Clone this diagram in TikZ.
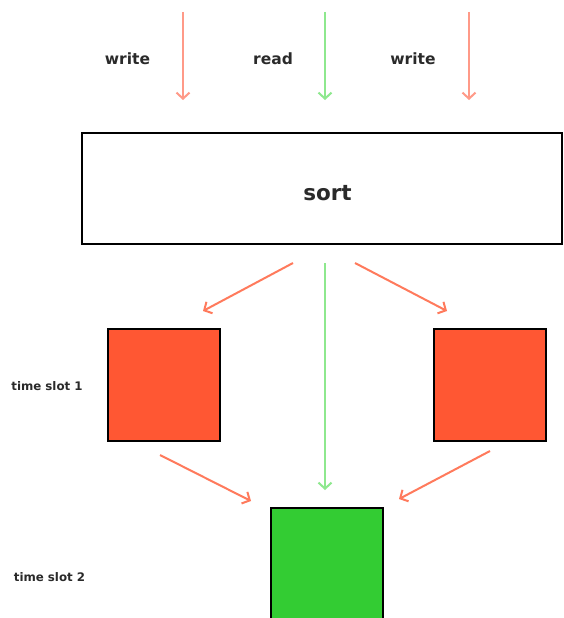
\documentclass[tikz,border=0pt]{standalone}
\usepackage{fontspec}
\setmainfont{DejaVu Sans}
\usetikzlibrary{arrows.meta}
\definecolor{wline}{HTML}{FF9A88}
\definecolor{rline}{HTML}{8EE88E}
\definecolor{oline}{HTML}{FF7A5C}
\definecolor{slotred}{HTML}{FF5733}
\definecolor{slotgreen}{HTML}{33CC33}
\definecolor{ink}{HTML}{2A2A2A}
\tikzset{
  flow/.style={line width=2pt, -{Straight Barb[length=6pt,width=13pt]}},
  box/.style={draw=black, line width=1.8pt, inner sep=0pt},
  lbl/.style={anchor=base, inner sep=0pt, text=ink, font=\bfseries\fontsize{15.5}{18}\selectfont},
  slotlbl/.style={lbl, font=\bfseries\fontsize{11.8}{14}\selectfont},
}
\begin{document}
\begin{tikzpicture}[x=1pt,y=-1pt]
\useasboundingbox (0,0) rectangle (564,618);
\clip (0,0) rectangle (564,618);
\fill[white] (0,0) rectangle (564,618);

% incoming requests
\coordinate (w1s) at (183,12);  \coordinate (w1e) at (183,100);
\coordinate (rds) at (325,12);  \coordinate (rde) at (325,100);
\coordinate (w2s) at (469,12);  \coordinate (w2e) at (469,100);
\draw[flow, wline] (w1s) -- (w1e);
\draw[flow, rline] (rds) -- (rde);
\draw[flow, wline] (w2s) -- (w2e);
\node[lbl] (lw1) at (127.5,64) {write};
\node[lbl] (lrd) at (273,64) {read};
\node[lbl] (lw2) at (413,64) {write};

% sorter
\node[box, fill=white, minimum width=480pt, minimum height=111pt] (sort) at (322,188.5) {};
\node[lbl, font=\bfseries\fontsize{21.5}{26}\selectfont] (sortlbl) at (327.5,200) {sort};

% time slot 1
\node[box, fill=slotred, minimum width=112pt, minimum height=112pt] (s1a) at (164,385) {};
\node[box, fill=slotred, minimum width=112pt, minimum height=112pt] (s1b) at (490,385) {};
\node[slotlbl] (t1) at (47,390) {time slot 1};

% time slot 2
\node[box, fill=slotgreen, minimum width=112pt, minimum height=140pt] (s2) at (327,578) {};
\node[slotlbl] (t2) at (49.5,581) {time slot 2};

% sorter outputs
\coordinate (o1s) at (293,263); \coordinate (o1e) at (203,311);
\coordinate (o2s) at (325,263); \coordinate (o2e) at (325,490);
\coordinate (o3s) at (355,263); \coordinate (o3e) at (447,311);
\draw[flow, oline] (o1s) -- (o1e);
\draw[flow, rline] (o2s) -- (o2e);
\draw[flow, oline] (o3s) -- (o3e);

% slot 1 into slot 2
\coordinate (m1s) at (160,455); \coordinate (m1e) at (251,501);
\coordinate (m2s) at (490,451); \coordinate (m2e) at (399,499);
\draw[flow, oline] (m1s) -- (m1e);
\draw[flow, oline] (m2s) -- (m2e);
\end{tikzpicture}
\end{document}
